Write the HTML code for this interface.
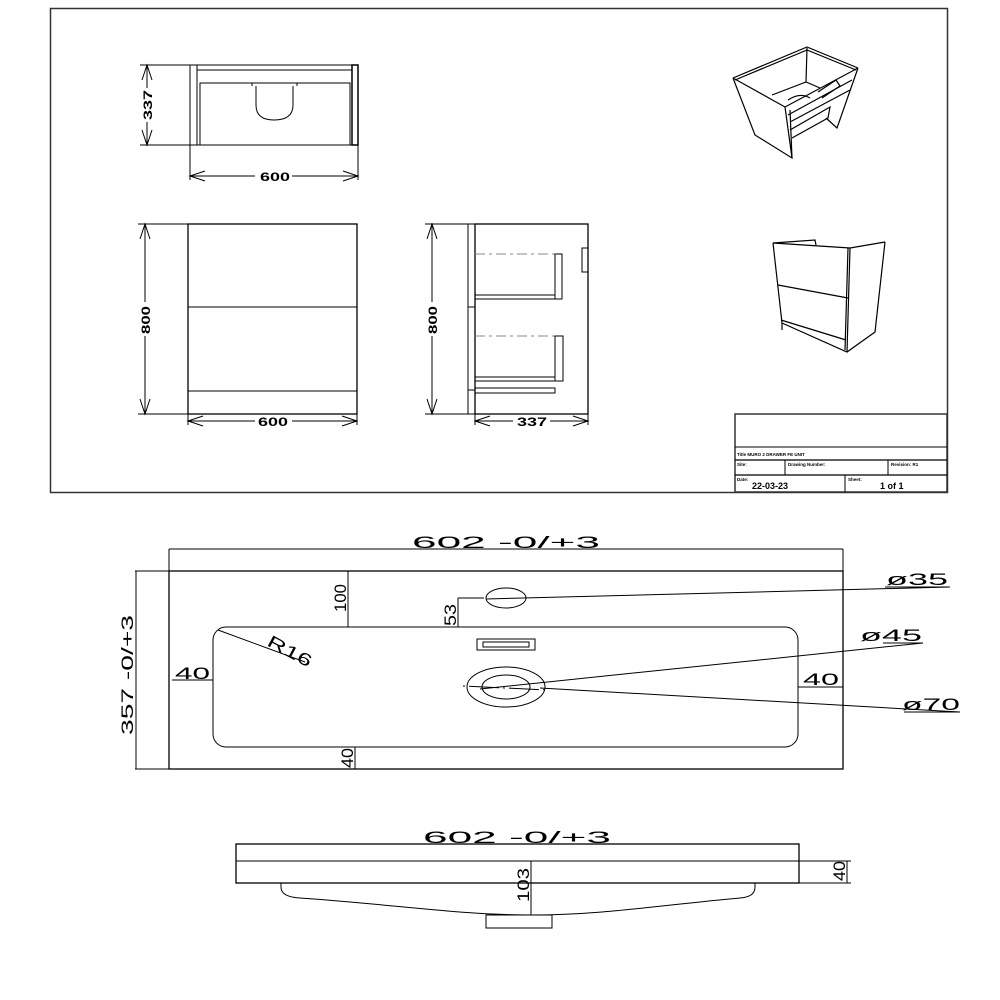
<!DOCTYPE html>
<html><head><meta charset="utf-8"><style>
html,body{margin:0;padding:0;background:#fff;}
svg{display:block;}
text{font-family:"Liberation Sans",sans-serif;fill:#000;}
.c{font-family:"Liberation Sans",sans-serif;font-size:17px;}
</style></head><body>
<svg width="1000" height="1000" viewBox="0 0 1000 1000" xmlns="http://www.w3.org/2000/svg">
<g fill="none" stroke="#000" stroke-width="1">
<rect x="50.5" y="8.5" width="897" height="484" stroke="#333" stroke-width="1.5"/>

<rect x="190" y="65" width="168" height="80"/>
<rect x="190" y="65" width="7" height="80"/>
<rect x="352" y="65" width="6" height="80" stroke-width="1.5"/>
<line x1="197" y1="70" x2="352" y2="70"/>
<polyline points="200,145 200,83 350,83 350,145"/>
<line x1="252" y1="83" x2="252" y2="86"/><line x1="297" y1="83" x2="297" y2="86"/>
<path d="M256,86 V105 Q256,120 274,120 Q293,120 293,105 V86"/>
<line x1="190" y1="145" x2="190" y2="180"/><line x1="358" y1="145" x2="358" y2="180"/>
<line x1="190" y1="176" x2="255" y2="176"/><line x1="292" y1="176" x2="358" y2="176"/>
<polyline points="205,171 190,176 205,181"/><polyline points="343,171 358,176 343,181"/>
<line x1="140" y1="65" x2="190" y2="65"/><line x1="140" y1="145" x2="190" y2="145"/>
<line x1="147" y1="65" x2="147" y2="88"/><line x1="147" y1="122" x2="147" y2="145"/>
<polyline points="142,80 147,65 152,80"/><polyline points="142,130 147,145 152,130"/>

<rect x="188" y="224" width="169" height="190" stroke-width="1.3"/>
<line x1="188" y1="307" x2="357" y2="307"/>
<line x1="188" y1="391" x2="357" y2="391"/>
<line x1="138" y1="224" x2="188" y2="224"/><line x1="138" y1="414" x2="188" y2="414"/>
<line x1="145" y1="224" x2="145" y2="302"/><line x1="145" y1="336" x2="145" y2="414"/>
<polyline points="140,239 145,224 150,239"/><polyline points="140,399 145,414 150,399"/>
<line x1="188" y1="414" x2="188" y2="425"/><line x1="357" y1="414" x2="357" y2="425"/>
<line x1="188" y1="421" x2="255" y2="421"/><line x1="292" y1="421" x2="357" y2="421"/>
<polyline points="203,416 188,421 203,426"/><polyline points="342,416 357,421 342,426"/>

<rect x="475" y="224" width="113" height="190" stroke-width="1.3"/>
<rect x="468" y="224" width="7" height="190"/>
<line x1="468" y1="307" x2="475" y2="307"/><line x1="468" y1="390" x2="475" y2="390"/>
<rect x="582" y="248" width="6" height="24"/>
<line x1="475" y1="254" x2="555" y2="254" stroke="#888" stroke-dasharray="10,4,3,4"/>
<rect x="555" y="254" width="7" height="45"/>
<rect x="475" y="295" width="80" height="4"/>
<line x1="475" y1="336" x2="555" y2="336" stroke="#888" stroke-dasharray="10,4,3,4"/>
<rect x="555" y="336" width="8" height="45"/>
<rect x="475" y="377" width="80" height="4"/>
<rect x="475" y="388" width="80" height="5"/>
<line x1="425" y1="224" x2="468" y2="224"/><line x1="425" y1="414" x2="468" y2="414"/>
<line x1="432" y1="224" x2="432" y2="302"/><line x1="432" y1="336" x2="432" y2="414"/>
<polyline points="427,239 432,224 437,239"/><polyline points="427,399 432,414 437,399"/>
<line x1="475" y1="414" x2="475" y2="425"/><line x1="588" y1="414" x2="588" y2="425"/>
<line x1="475" y1="421" x2="513" y2="421"/><line x1="550" y1="421" x2="588" y2="421"/>
<polyline points="490,416 475,421 490,426"/><polyline points="573,416 588,421 573,426"/>

<g stroke-width="1.2">
<polyline points="733,78 807,47 858,68"/>
<polyline points="735,80 807,50 856,70"/>
<polyline points="733,78 785,107 858,68"/>
<polyline points="733,78 755,135 792,158 785,107"/>
<polyline points="790,110 792,158"/>
<polyline points="858,68 837,128 826,118"/>
<line x1="807" y1="48" x2="806" y2="82"/>
<polyline points="772,95 806,82 820,88"/>
<polyline points="788,115 852,80"/><polyline points="790,122 850,90"/>
<polyline points="790,130 830,107 828,118 792,138"/>
<polyline points="818,92 836,80 840,86 822,98"/>
<path d="M788,100 Q800,92 810,98"/>
</g>
<g stroke-width="1.2">
<polyline points="773,243 815,240 816,245"/>
<polyline points="773,243 850,248 885,242"/>
<polyline points="773,243 782,323 847,352 875,332 885,242"/>
<line x1="850" y1="248" x2="847" y2="352"/><line x1="848" y1="248" x2="845" y2="350"/>
<line x1="778" y1="285" x2="848" y2="298"/>
<line x1="781" y1="320" x2="846" y2="340"/>
<line x1="782" y1="323" x2="782" y2="330"/>
</g>

<rect x="735" y="414" width="212" height="78" stroke="#333" stroke-width="1.5"/>
<line x1="735" y1="447" x2="947" y2="447"/>
<line x1="735" y1="460" x2="947" y2="460" stroke-width="1.3"/>
<line x1="735" y1="475" x2="947" y2="475" stroke-width="1.3"/>
<line x1="785" y1="460" x2="785" y2="475"/>
<line x1="888" y1="460" x2="888" y2="475"/>
<line x1="845" y1="475" x2="845" y2="492"/>

<rect x="169" y="571" width="674" height="198" stroke-width="1.3"/>
<line x1="169" y1="549" x2="169" y2="571"/><line x1="843" y1="549" x2="843" y2="571"/>
<line x1="169" y1="549" x2="843" y2="549"/>
<line x1="135" y1="571" x2="169" y2="571"/><line x1="135" y1="769" x2="169" y2="769"/>
<line x1="136" y1="571" x2="136" y2="769"/>
<rect x="213" y="627" width="585" height="120" rx="13" ry="13"/>
<line x1="348" y1="571" x2="348" y2="627"/>
<line x1="458" y1="598" x2="458" y2="627"/><line x1="458" y1="598" x2="484" y2="598"/>
<ellipse cx="506" cy="598" rx="20" ry="10"/>
<line x1="486" y1="599" x2="950" y2="587"/>
<rect x="477" y="639" width="58" height="11"/>
<rect x="483" y="642" width="46" height="5"/>
<ellipse cx="506" cy="687" rx="39" ry="20"/>
<ellipse cx="506" cy="687" rx="24" ry="12"/>
<line x1="463" y1="686" x2="548" y2="690" stroke-dasharray="2,4,30,4"/>
<line x1="480" y1="689" x2="923" y2="643"/>
<line x1="540" y1="688" x2="960" y2="712"/>
<line x1="883" y1="643" x2="923" y2="643"/>
<line x1="904" y1="712" x2="960" y2="712"/>
<line x1="885" y1="587" x2="950" y2="587"/>
<line x1="172" y1="680" x2="213" y2="680"/>
<line x1="798" y1="687" x2="843" y2="687"/>
<line x1="355" y1="747" x2="355" y2="769"/>
<line x1="218" y1="630" x2="305" y2="662"/>

<rect x="236" y="844" width="563" height="39" stroke-width="1.3"/>
<line x1="236" y1="861" x2="799" y2="861"/>
<line x1="799" y1="861" x2="851" y2="861"/><line x1="799" y1="883" x2="851" y2="883"/>
<line x1="847" y1="861" x2="847" y2="883"/>
<path d="M281,883 V887 Q281,897 300,898 C400,905 460,915 531,915 C602,915 662,905 740,898 Q755,897 755,887 V883"/>
<line x1="531" y1="861" x2="531" y2="915"/>
<rect x="486" y="915" width="66" height="13"/>
</g>

<g font-size="12" font-weight="bold">
<text x="260" y="181" textLength="30" lengthAdjust="spacingAndGlyphs">600</text>
<text x="258" y="426" textLength="30" lengthAdjust="spacingAndGlyphs">600</text>
<text x="517" y="426" textLength="30" lengthAdjust="spacingAndGlyphs">337</text>
<text transform="translate(152,120) rotate(-90)" textLength="30" lengthAdjust="spacingAndGlyphs">337</text>
<text transform="translate(150,334) rotate(-90)" textLength="28" lengthAdjust="spacingAndGlyphs">800</text>
<text transform="translate(437,334) rotate(-90)" textLength="28" lengthAdjust="spacingAndGlyphs">800</text>
</g>
<g font-size="4.5" font-weight="bold">
<text x="737" y="456">Title MURO 2 DRAWER FE UNIT</text>
<text x="737" y="466">Site:</text>
<text x="788" y="466">Drawing Number:</text>
<text x="891" y="466">Revision: R1</text>
<text x="737" y="481">Date:</text>
<text x="848" y="481">Sheet:</text>
</g>
<text x="752" y="489" font-size="9" font-weight="bold">22-03-23</text>
<text x="880" y="489" font-size="9" font-weight="bold">1 of 1</text>

<g class="c" font-size="17">
<text x="412" y="548" textLength="188" lengthAdjust="spacingAndGlyphs">602  -0/+3</text>
<text transform="translate(133,735) rotate(-90)" textLength="120" lengthAdjust="spacingAndGlyphs">357  -0/+3</text>
<text transform="translate(346,612) rotate(-90)" textLength="28" lengthAdjust="spacingAndGlyphs">100</text>
<text transform="translate(456,626) rotate(-90)" textLength="22" lengthAdjust="spacingAndGlyphs">53</text>
<text transform="translate(353,768) rotate(-90)" textLength="20" lengthAdjust="spacingAndGlyphs">40</text>
<text x="175" y="679" textLength="35" lengthAdjust="spacingAndGlyphs">40</text>
<text x="803" y="685" textLength="36" lengthAdjust="spacingAndGlyphs">40</text>
<text transform="translate(266,645) rotate(28)" textLength="48" lengthAdjust="spacingAndGlyphs">R16</text>
<text x="886" y="585" textLength="62" lengthAdjust="spacingAndGlyphs">ø35</text>
<text x="860" y="641" textLength="62" lengthAdjust="spacingAndGlyphs">ø45</text>
<text x="902" y="710" textLength="58" lengthAdjust="spacingAndGlyphs">ø70</text>
<text x="423" y="843" textLength="188" lengthAdjust="spacingAndGlyphs">602  -0/+3</text>
<text transform="translate(529,902) rotate(-90)" textLength="34" lengthAdjust="spacingAndGlyphs">103</text>
<text transform="translate(845,881) rotate(-90)" textLength="20" lengthAdjust="spacingAndGlyphs">40</text>
</g>
</svg>
</body></html>
